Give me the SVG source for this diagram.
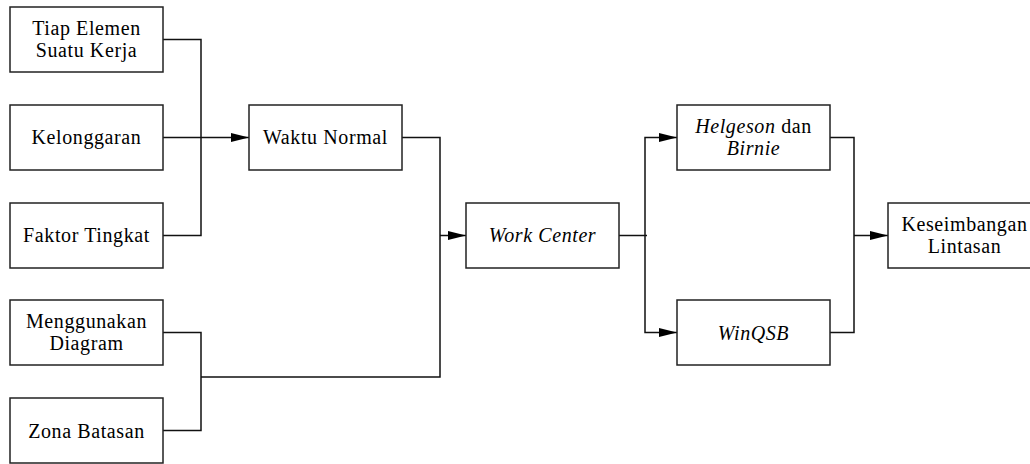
<svg xmlns="http://www.w3.org/2000/svg" width="1030" height="464" viewBox="0 0 1030 464">
<defs>
<style>
.box{fill:#fff;stroke:#222;stroke-width:1.5}
.cn{fill:none;stroke:#111;stroke-width:1.5}
</style>
<marker id="ah" markerUnits="userSpaceOnUse" markerWidth="18" markerHeight="10" refX="18" refY="5" orient="auto">
<path d="M0,0.5 L18,5 L0,9.5 Z" fill="#000"/>
</marker>
</defs>
<rect width="1030" height="464" fill="#fff"/>
<g id="connectors">
<path class="cn" d="M163,39.5 H201 V235.5 H163"/>
<path class="cn" d="M163,137.5 H249" marker-end="url(#ah)"/>
<path class="cn" d="M163,332.5 H201 V430.5 H163"/>
<path class="cn" d="M402,137.5 H440 V377 H201"/>
<path class="cn" d="M440,235.5 H466" marker-end="url(#ah)"/>
<path class="cn" d="M619,235.5 H647"/>
<path class="cn" d="M645,235.5 V137.5 H677" marker-end="url(#ah)"/>
<path class="cn" d="M645,235.5 V332.5 H677" marker-end="url(#ah)"/>
<path class="cn" d="M830,137.5 H854 V332.5 H830"/>
<path class="cn" d="M854,235.5 H888" marker-end="url(#ah)"/>
</g>
<g id="n1"><rect class="box" x="10" y="7" width="153" height="65"/>
<text x="86.5" y="35" font-family="Liberation Serif" font-size="20" text-anchor="middle" letter-spacing="0.6">Tiap Elemen</text>
<text x="86.5" y="57" font-family="Liberation Serif" font-size="20" text-anchor="middle" letter-spacing="0.6">Suatu Kerja</text></g>
<g id="n2"><rect class="box" x="10" y="105" width="153" height="65"/>
<text x="86.5" y="144" font-family="Liberation Serif" font-size="20" text-anchor="middle" letter-spacing="0.6">Kelonggaran</text></g>
<g id="n3"><rect class="box" x="10" y="203" width="153" height="65"/>
<text x="86.5" y="242" font-family="Liberation Serif" font-size="20" text-anchor="middle" letter-spacing="0.6">Faktor Tingkat</text></g>
<g id="n4"><rect class="box" x="10" y="300" width="153" height="65"/>
<text x="86.5" y="327.5" font-family="Liberation Serif" font-size="20" text-anchor="middle" letter-spacing="0.6">Menggunakan</text>
<text x="86.5" y="350" font-family="Liberation Serif" font-size="20" text-anchor="middle" letter-spacing="0.6">Diagram</text></g>
<g id="n5"><rect class="box" x="10" y="398" width="153" height="65"/>
<text x="86.5" y="437.5" font-family="Liberation Serif" font-size="20" text-anchor="middle" letter-spacing="0.6">Zona Batasan</text></g>
<g id="n6"><rect class="box" x="249" y="105" width="153" height="65"/>
<text x="325.5" y="144" font-family="Liberation Serif" font-size="20" text-anchor="middle" letter-spacing="0.6">Waktu Normal</text></g>
<g id="n7"><rect class="box" x="466" y="203" width="153" height="65"/>
<text x="542.5" y="242" font-family="Liberation Serif" font-size="20" text-anchor="middle" letter-spacing="0.6" font-style="italic">Work Center</text></g>
<g id="n8"><rect class="box" x="677" y="105" width="153" height="65"/>
<text x="753.5" y="133" font-family="Liberation Serif" font-size="20" text-anchor="middle" letter-spacing="0.6"><tspan font-style="italic">Helgeson</tspan> dan</text>
<text x="753.5" y="154.5" font-family="Liberation Serif" font-size="20" text-anchor="middle" letter-spacing="0.6" font-style="italic">Birnie</text></g>
<g id="n9"><rect class="box" x="677" y="300" width="153" height="65"/>
<text x="753.5" y="339.5" font-family="Liberation Serif" font-size="20" text-anchor="middle" letter-spacing="0.6" font-style="italic">WinQSB</text></g>
<g id="n10"><rect class="box" x="888" y="203" width="153" height="65"/>
<text x="964.5" y="231" font-family="Liberation Serif" font-size="20" text-anchor="middle" letter-spacing="0.6">Keseimbangan</text>
<text x="964.5" y="253" font-family="Liberation Serif" font-size="20" text-anchor="middle" letter-spacing="0.6">Lintasan</text></g>
</svg>
